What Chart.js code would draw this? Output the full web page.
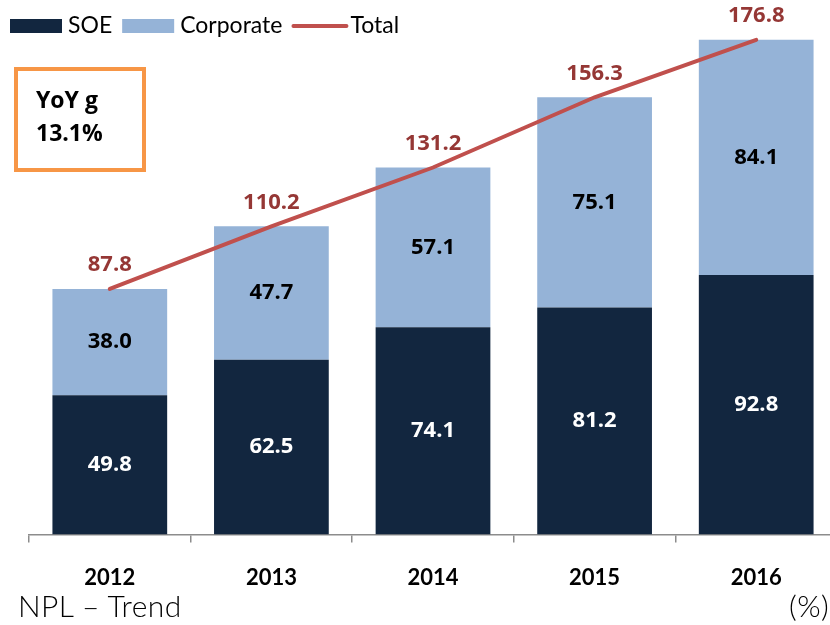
<!DOCTYPE html>
<html lang="en">
<head>
    <meta charset="UTF-8">
    <title>NPL – Trend</title>
    <script src="https://cdn.jsdelivr.net/npm/chart.js"></script>
    <style>
        html, body {
            margin: 0;
            padding: 0;
            background: #fff;
            overflow: hidden;
            width: 830px;
            height: 625px;
        }
        #wrap {
            position: absolute;
            left: 0;
            top: 0;
            width: 840px;
            height: 613px;
        }
        .yoy {
            position: absolute;
            left: 14px;
            top: 67px;
            width: 124px;
            height: 97px;
            border: 4px solid #f79646;
            font-family: "Open Sans", sans-serif;
            font-weight: bold;
            font-size: 23px;
            line-height: 33px;
            color: #000;
            box-sizing: content-box;
        }
        .yoy div { padding-left: 18px; }
        .yoy div:first-child { margin-top: 12px; }
        .foot {
            position: absolute;
            top: 587px;
            font-family: "Lato", sans-serif;
            font-weight: 300;
            font-size: 30px;
            letter-spacing: 0.4px;
            color: #000;
        }
    </style>
</head>
<body>
    <div id="wrap"><canvas id="nplChart" width="840" height="613"></canvas></div>
    <div class="yoy"><div>YoY g</div><div>13.1%</div></div>
    <div class="foot" style="left:18px;">NPL – Trend</div>
    <div class="foot" style="left:789px;">(%)</div>

    <script>
        const years = ['2012', '2013', '2014', '2015', '2016'];
        const soe = [49.8, 62.5, 74.1, 81.2, 92.8];
        const corporate = [38.0, 47.7, 57.1, 75.1, 84.1];
        const total = [87.8, 110.2, 131.2, 156.3, 176.8];

        // legend drawn by hand so the line entry can be a thin stroke
        const legendPlugin = {
            id: 'topLegend',
            afterDraw(chart) {
                const c = chart.ctx;
                c.save();
                c.font = '23px Lato, sans-serif';
                c.textBaseline = 'middle';
                let x = 10;
                const y = 26;
                const order = ['SOE', 'Corporate', 'Total'];
                order.forEach(name => {
                    const ds = chart.data.datasets.find(d => d.label === name);
                    if (ds.type === 'line') {
                        c.strokeStyle = ds.borderColor;
                        c.lineWidth = 4;
                        c.lineCap = 'round';
                        c.beginPath();
                        c.moveTo(x + 1, y);
                        c.lineTo(x + 54, y);
                        c.stroke();
                    } else {
                        c.fillStyle = ds.backgroundColor;
                        c.fillRect(x, y - 7, 52, 14);
                    }
                    c.fillStyle = '#000';
                    c.fillText(ds.label, x + 58, y);
                    x += 58 + c.measureText(ds.label).width + 10;
                });
                c.restore();
            }
        };

        const labelPlugin = {
            id: 'valueLabels',
            afterDatasetsDraw(chart) {
                const c = chart.ctx;
                c.save();
                c.textAlign = 'center';
                c.textBaseline = 'middle';
                c.font = 'bold 22px "Open Sans", sans-serif';
                chart.data.datasets.forEach((ds, i) => {
                    const meta = chart.getDatasetMeta(i);
                    meta.data.forEach((el, j) => {
                        const v = ds.data[j].toFixed(1);
                        if (ds.type === 'line') {
                            c.fillStyle = '#953735';
                            c.fillText(v, el.x, el.y - 24);
                        } else {
                            c.fillStyle = ds.label === 'SOE' ? '#fff' : '#000';
                            c.fillText(v, el.x, (el.y + el.base) / 2);
                        }
                    });
                });
                c.restore();
            }
        };

        const ctx = document.getElementById('nplChart').getContext('2d');
        new Chart(ctx, {
            type: 'bar',
            data: {
                labels: years,
                datasets: [
                    {
                        label: 'Total',
                        type: 'line',
                        data: total,
                        borderColor: '#c0504d',
                        backgroundColor: '#c0504d',
                        borderWidth: 4,
                        borderCapStyle: 'round',
                        pointRadius: 0,
                        tension: 0,
                        order: 0
                    },
                    {
                        label: 'SOE',
                        data: soe,
                        backgroundColor: '#12263f',
                        stack: 's',
                        order: 2
                    },
                    {
                        label: 'Corporate',
                        data: corporate,
                        backgroundColor: '#95b3d7',
                        stack: 's',
                        order: 2
                    }
                ]
            },
            options: {
                responsive: false,
                animation: false,
                events: [],
                layout: { padding: { left: 29, right: 3, top: 3, bottom: 0 } },
                datasets: {
                    bar: { barPercentage: 0.71, categoryPercentage: 1 }
                },
                plugins: {
                    legend: { display: false },
                    tooltip: { enabled: false }
                },
                scales: {
                    x: {
                        stacked: true,
                        grid: {
                            drawOnChartArea: false,
                            drawTicks: true,
                            tickLength: 8,
                            color: '#8c8c8c',
                            lineWidth: 1.5
                        },
                        border: { display: true, color: '#8c8c8c', width: 1.5 },
                        ticks: {
                            color: '#000',
                            padding: 22,
                            font: { family: 'Lato', weight: 'bold', size: 22 }
                        }
                    },
                    y: {
                        display: false,
                        stacked: true,
                        min: 0,
                        max: 190
                    }
                }
            },
            plugins: [legendPlugin, labelPlugin]
        });
    </script>
</body>
</html>
